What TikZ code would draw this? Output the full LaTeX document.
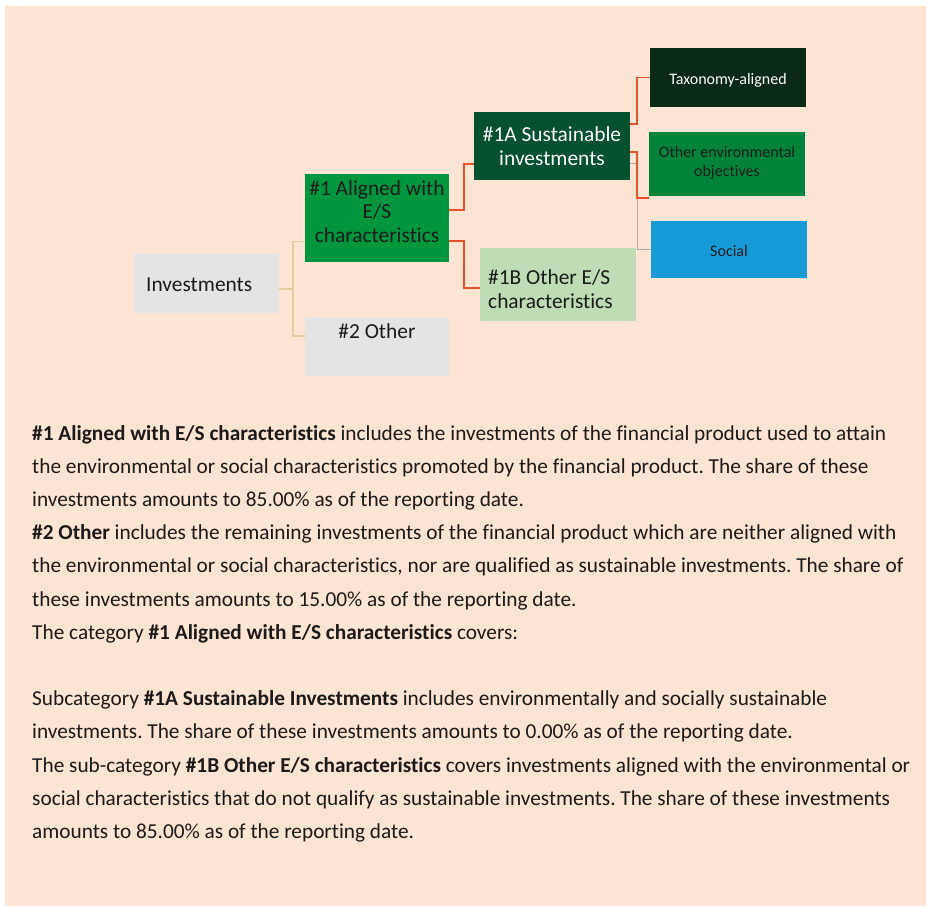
\documentclass[tikz,border=0pt]{standalone}
\usepackage{fontspec}
\setmainfont[Ligatures={NoCommon}]{Carlito}
\usepackage{xcolor}
\usepackage{tikz}
\usetikzlibrary{positioning}
\frenchspacing

\definecolor{peach}{HTML}{FDE4D3}
\definecolor{boxgray}{HTML}{E4E4E4}
\definecolor{aligngreen}{HTML}{00963E}
\definecolor{susgreen}{HTML}{03512F}
\definecolor{othgreen}{HTML}{BEDDB4}
\definecolor{taxgreen}{HTML}{0A2A18}
\definecolor{envgreen}{HTML}{00843A}
\definecolor{socblue}{HTML}{179BD7}
\definecolor{redline}{HTML}{E9532B}
\definecolor{tanline}{HTML}{E3CF9E}
\definecolor{grayline}{HTML}{A8A8A8}
\definecolor{inkblack}{HTML}{1A1A1A}

\begin{document}
\begin{tikzpicture}[x=1pt,y=-1pt,
  box/.style={anchor=north west,inner sep=0pt,outer sep=0pt},
  big/.style={inner sep=0pt,text=inkblack,font=\fontsize{21.4}{23.8}\selectfont},
  small/.style={inner sep=0pt,text=inkblack,font=\fontsize{16}{18.7}\selectfont},
  redcon/.style={redline,line width=1.9pt},
  tancon/.style={tanline,line width=1.4pt},
  graycon/.style={grayline,line width=1.2pt}]
  \useasboundingbox (0,0) rectangle (926,906);
  \fill[white] (0,0) rectangle (926,906);
  \fill[peach] (5,6) rectangle (926,906);           % panel

  % boxes
  \node[box,fill=boxgray,minimum width=145pt,minimum height=60pt,
    label={[big,anchor=west,xshift=12pt,yshift=-2pt]west:Investments}] (inv) at (134,253) {};
  \node[box,fill=aligngreen,minimum width=144pt,minimum height=88pt,
    label={[big,align=center,yshift=6.5pt]center:\#1 Aligned with\\E/S\\characteristics}] (al) at (305,174) {};
  \node[box,fill=boxgray,minimum width=144pt,minimum height=59pt,
    label={[big,anchor=north,yshift=-6pt]north:\#2 Other}] (other) at (305,317) {};
  \node[box,fill=susgreen,minimum width=156pt,minimum height=68pt,
    label={[big,text=white,align=center,yshift=-0.5pt]center:\#1A Sustainable\\investments}] (sus) at (474,112) {};
  \node[box,fill=othgreen,minimum width=156pt,minimum height=73pt,
    label={[big,align=left,anchor=west,xshift=8pt,yshift=-5pt]west:\#1B Other E/S\\characteristics}] (oth) at (480,248) {};
  \node[box,fill=taxgreen,minimum width=156pt,minimum height=59pt,
    label={[small,text=white,yshift=-3pt]center:Taxonomy-aligned}] (tax) at (650,48) {};
  \node[box,fill=envgreen,minimum width=156pt,minimum height=64pt,
    label={[small,align=center,yshift=1pt]center:Other environmental\\objectives}] (env) at (649,132) {};
  \node[box,fill=socblue,minimum width=156pt,minimum height=57pt,
    label={[small,yshift=-1pt]center:Social}] (soc) at (651,221) {};

  % connectors
  \draw[tancon] ([yshift=-6pt]inv.east) -- ++(14,0) |- ([yshift=-23.7pt]al.west);
  \draw[tancon] ([yshift=-6pt]inv.east) -- ++(14,0) |- ([yshift=10.5pt]other.west);
  \draw[redcon] ([yshift=8pt]al.east) -- ++(15.3,0) |- ([yshift=-18pt]sus.west);
  \draw[redcon] ([yshift=-23pt]al.east) -- ++(15.3,0) |- ([yshift=-3.8pt]oth.west);
  \draw[graycon] ([yshift=-17.3pt]sus.east) -- ++(7.3,0) |- (soc.west);
  \draw[redcon] ([yshift=22pt]sus.east) -- ++(7.3,0) |- (tax.west);
  \draw[redcon] ([yshift=-6pt]sus.east) -- ++(7.3,0) |- ([yshift=-33.7pt]env.west);

  % text below
  \node[anchor=north west,inner sep=0pt,align=left,text=inkblack,
    font=\fontsize{21.3}{33.2}\selectfont] (notes) at (32,425) {%
    \textbf{\#1 Aligned with E/S characteristics} includes the investments of the financial product used to attain\\
    the environmental or social characteristics promoted by the financial product. The share of these\\
    investments amounts to 85.00\% as of the reporting date.\\
    \textbf{\#2 Other} includes the remaining investments of the financial product which are neither aligned with\\
    the environmental or social characteristics, nor are qualified as sustainable investments. The share of\\
    these investments amounts to 15.00\% as of the reporting date.\\
    The category \textbf{\#1 Aligned with E/S characteristics} covers:\\[33.2pt]
    Subcategory \textbf{\#1A Sustainable Investments} includes environmentally and socially sustainable\\
    investments. The share of these investments amounts to 0.00\% as of the reporting date.\\
    The sub-category \textbf{\#1B Other E/S characteristics} covers investments aligned with the environmental or\\
    social characteristics that do not qualify as sustainable investments. The share of these investments\\
    amounts to 85.00\% as of the reporting date.};
\end{tikzpicture}
\end{document}
